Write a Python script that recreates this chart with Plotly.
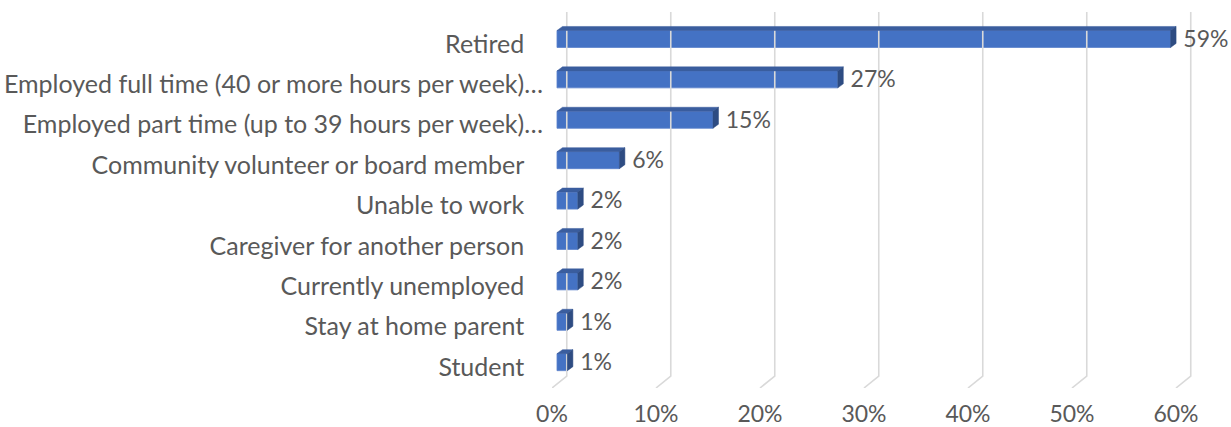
import plotly.graph_objects as go

# survey categories, top to bottom
categories = [
    "Retired",
    "Employed full time (40 or more hours per week)…",
    "Employed part time (up to 39 hours per week)…",
    "Community volunteer or board member",
    "Unable to work",
    "Caregiver for another person",
    "Currently unemployed",
    "Stay at home parent",
    "Student",
]
values = [59, 27, 15, 6, 2, 2, 2, 1, 1]
x_ticks = [0, 10, 20, 30, 40, 50, 60]

TEXT_COLOR = "#595959"
FONT = "Lato"
FRONT = "#4472C4"
TOP = "#3A5D9E"
SIDE = "#2E4C82"
GRID = "#D9D9D9"

# pseudo 3d geometry (axis units)
BAR_BASE = 0.48      # front face of bars sits a bit behind the floor edge
BAR_H = 0.21         # half height of bar front face
DEPTH_X = 0.53       # bar depth offset
DEPTH_Y = 0.10
GRID_DX = 1.42       # back wall offset from front floor edge
Y_TOP = -0.668
Y_BOT = 8.639
FLOOR_DY = 0.297

fig = go.Figure()

# gridlines: back wall vertical + slanted floor edge
gx, gy = [], []
for t in x_ticks:
    gx += [t + GRID_DX, t + GRID_DX, t, None]
    gy += [Y_TOP, Y_BOT - FLOOR_DY, Y_BOT, None]
fig.add_trace(go.Scatter(x=gx, y=gy, mode="lines", line=dict(color=GRID, width=1.6),
                         hoverinfo="skip", showlegend=False, cliponaxis=False))

ypos = list(range(len(categories)))

# front faces
fig.add_trace(go.Bar(
    y=ypos, x=values, base=BAR_BASE, orientation="h", width=2 * BAR_H,
    marker=dict(color=FRONT, line=dict(color="#5A82CC", width=0.8)),
    showlegend=False, hoverinfo="skip",
))

# top and side faces
for yc, v in zip(ypos, values):
    x0 = BAR_BASE
    x1 = BAR_BASE + v
    yt = yc - BAR_H
    yb = yc + BAR_H
    fig.add_trace(go.Scatter(
        x=[x0, x0 + DEPTH_X, x1 + DEPTH_X, x1, x0],
        y=[yt, yt - DEPTH_Y, yt - DEPTH_Y, yt, yt],
        mode="lines", fill="toself", fillcolor=TOP, line=dict(color=TOP, width=0.5),
        hoverinfo="skip", showlegend=False,
    ))
    fig.add_trace(go.Scatter(
        x=[x1, x1 + DEPTH_X, x1 + DEPTH_X, x1, x1],
        y=[yt, yt - DEPTH_Y, yb - DEPTH_Y, yb, yt],
        mode="lines", fill="toself", fillcolor=SIDE, line=dict(color=SIDE, width=0.5),
        hoverinfo="skip", showlegend=False,
    ))

# data labels
fig.add_trace(go.Scatter(
    x=[BAR_BASE + v + DEPTH_X + 0.7 for v in values],
    y=[y + 0.05 for y in ypos],
    mode="text", text=[f"{v}%" for v in values], textposition="middle right",
    textfont=dict(family=FONT, size=23, color=TEXT_COLOR),
    hoverinfo="skip", showlegend=False, cliponaxis=False,
))

# pad the un-truncated labels so the ellipsis ones poke out to the right like the original
ticktext = [c if c.endswith("…") else c + "\u2003" for c in categories]

fig.update_layout(
    width=1231, height=427,
    margin=dict(l=552, r=0, t=12, b=39),
    plot_bgcolor="white", paper_bgcolor="white",
    font=dict(family=FONT, size=24, color=TEXT_COLOR),
    xaxis=dict(
        range=[0, 65.29], tickvals=x_ticks, ticktext=[f"{t}%" for t in x_ticks],
        showgrid=False, zeroline=False, showline=False, automargin=False,
        ticks="outside", ticklen=5, tickcolor="rgba(0,0,0,0)",
        tickfont=dict(family=FONT, size=23, color=TEXT_COLOR),
    ),
    yaxis=dict(
        range=[Y_BOT, Y_TOP], tickvals=[y + 0.12 for y in ypos], ticktext=ticktext,
        showgrid=False, zeroline=False, showline=False, automargin=False,
        ticks="outside", ticklen=3, tickcolor="rgba(0,0,0,0)",
        tickfont=dict(family=FONT, size=25, color=TEXT_COLOR),
    ),
)

# page has a default 8px body margin; drop it so the figure sits at the window corner
fig.write_html("out.html", config={"displayModeBar": False},
               post_script="document.body.style.margin='0';")
